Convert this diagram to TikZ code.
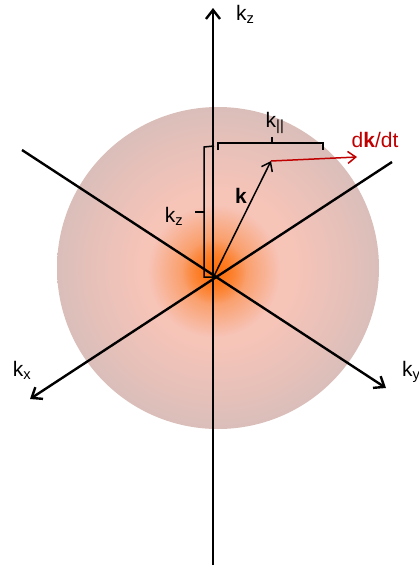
\documentclass[tikz,border=0pt]{standalone}
\usepackage{fontspec}
\setmainfont{Liberation Sans}
\usetikzlibrary{arrows.meta,fadings}
\definecolor{pinkout}{RGB}{218,190,186}
\definecolor{pinkin}{RGB}{247,196,184}
\definecolor{glowc}{RGB}{255,112,10}
\definecolor{dkred}{RGB}{192,0,0}
\pgfdeclareradialshading{sphereshade}{\pgfpoint{0bp}{0bp}}{color(0bp)=(pinkin); color(12bp)=(pinkin); color(25bp)=(pinkout); color(50bp)=(pinkout)}
\tikzfading[name=glowfade, inner color=transparent!0, outer color=transparent!100]
\begin{document}
\begin{tikzpicture}[x=1pt,y=-1pt,
  axis/.style={line width=2.4pt,-{Straight Barb[length=9pt,width=14pt,line width=2.4pt]}},
  vec/.style={line width=1.5pt,-{Straight Barb[length=8pt,width=12pt,line width=1.5pt]}},
  brk/.style={line width=1.5pt},
  lbl/.style={font=\fontsize{21}{24}\selectfont, inner sep=0pt}]
\useasboundingbox (0,0) rectangle (419,568);
% sphere
\shade[shading=sphereshade] (218,268) circle [radius=161pt];
\fill[glowc, path fading=glowfade, opacity=0.85] (214,271) circle [radius=66pt];
\fill[glowc, path fading=glowfade] (214,272) circle [radius=32pt];
% axes
\coordinate (zb) at (213,565);
\coordinate (zt) at (213,8);
\coordinate (yb) at (22,150);
\coordinate (yt) at (386,388);
\coordinate (xb) at (392,162);
\coordinate (xt) at (30,399);
\coordinate (O) at (213,278);
\draw[axis] (zb) -- (zt);
\draw[axis] (yb) -- (yt);
\draw[axis] (xb) -- (xt);
\node[lbl, anchor=west] (lz) at (236,14) {k\textsubscript{z}};
\node[lbl, anchor=center] (lx) at (22,370) {k\textsubscript{x}};
\node[lbl, anchor=west] (ly) at (402,372) {k\textsubscript{y}};
% vectors
\coordinate (K) at (271,161);
\coordinate (D) at (357,157);
\draw[vec] (O) -- (K);
\draw[vec, dkred] (K) -- (D);
\node[lbl, anchor=center] (lk) at (241,196) {\textbf{k}};
\node[lbl, anchor=center, text=dkred] (ld) at (375,140) {d\textbf{k}/dt};
% brackets
\draw[brk] (218,150) -- (218,143) -- (323,143) -- (323,150);
\draw[brk] (272,143) -- (272,137);
\node[lbl, anchor=center] (lpar) at (275,123) {k\textsubscript{||}};
\draw[brk] (214,146) -- (204,147) -- (204,277) -- (213,277);
\draw[brk] (204,212) -- (195,212);
\node[lbl, anchor=center] (lz2) at (174,216) {k\textsubscript{z}};
\end{tikzpicture}
\end{document}
